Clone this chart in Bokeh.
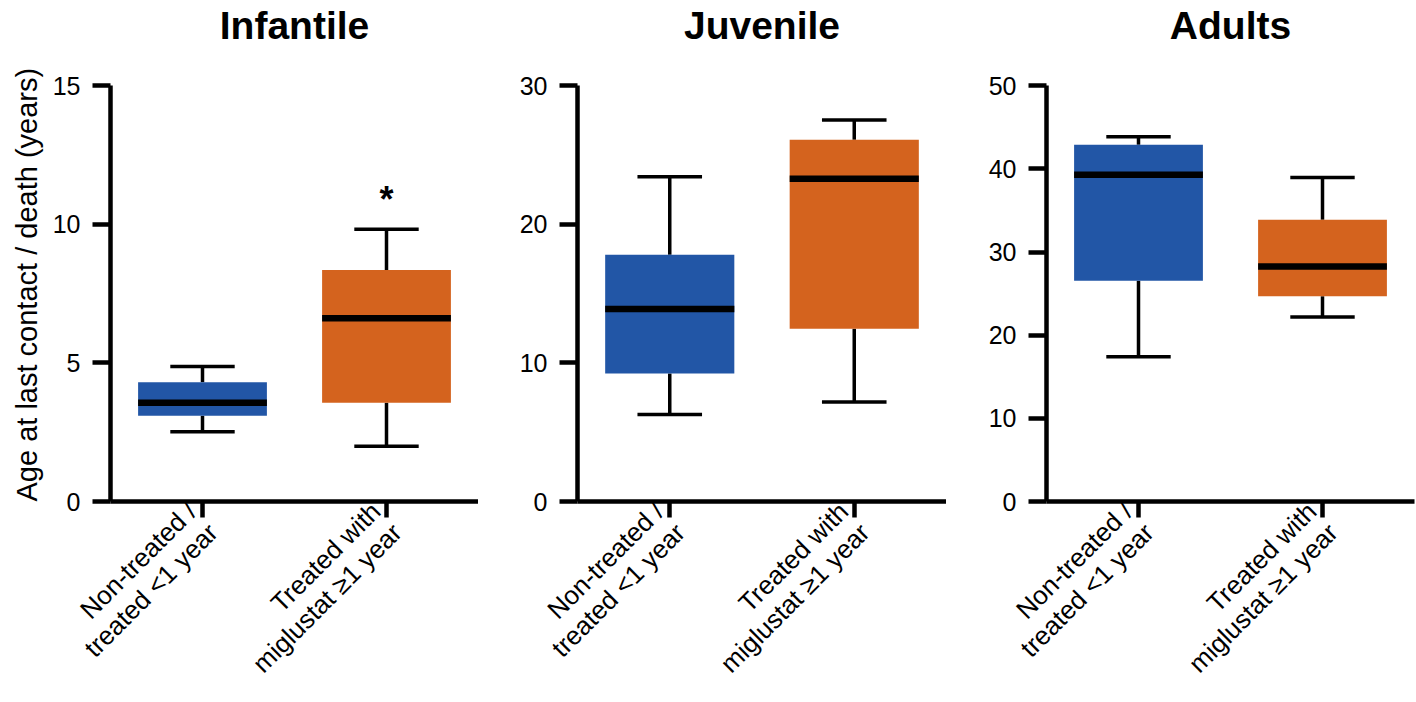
import math
from bokeh.plotting import figure
from bokeh.layouts import row
from bokeh.models import FactorRange, Range1d, FixedTicker, ColumnDataSource, Title
from bokeh.core.properties import value
from bokeh.embed import file_html
from bokeh.resources import INLINE

# ---------------- data ----------------
groups = ["Infantile", "Juvenile", "Adults"]
categories = ["Non-treated /\ntreated <1 year", "Treated with\nmiglustat \u22651 year"]
colors = ["#2256A6", "#D4631E"]
y_max = [15, 30, 50]
y_ticks = [[0, 5, 10, 15], [0, 10, 20, 30], [0, 10, 20, 30, 40, 50]]

whisker_low = [[2.52, 1.99], [6.27, 7.19], [17.4, 22.2]]
q1 = [[3.09, 3.56], [9.23, 12.47], [26.56, 24.68]]
median = [[3.56, 6.61], [13.9, 23.3], [39.3, 28.28]]
q3 = [[4.30, 8.35], [17.8, 26.1], [42.9, 33.9]]
whisker_high = [[4.87, 9.82], [23.43, 27.54], [43.87, 38.98]]

sig_group = "Infantile"
sig_category = categories[1]
sig_y = 10.9
sig_text = "*"

y_label = "Age at last contact / death (years)"

FONT = "Liberation Sans"

# ---------------- layout (pixels) ----------------
left_borders = [110, 99, 100]
right_borders = [0, 0, 2]
frame_ws = [368, 369, 368]
H = 702
axis_bottom_px = 502      # canvas row of y = 0
axis_top_px = 85.5        # canvas row of y = y_max
title_row_px = 25         # canvas row where the title text is anchored
bottom_border = H - axis_bottom_px

figs = []
for i, g in enumerate(groups):
    w = left_borders[i] + frame_ws[i] + right_borders[i]
    px_per_unit = (axis_bottom_px - axis_top_px) / y_max[i]
    p = figure(
        x_range=FactorRange(*categories),
        y_range=Range1d(0, axis_bottom_px / px_per_unit),   # frame reaches canvas top
        width=w,
        height=H,
        min_border_left=left_borders[i],
        min_border_right=right_borders[i],
        min_border_top=0,
        min_border_bottom=bottom_border,
        output_backend="svg",
        toolbar_location=None,
    )
    p.outline_line_color = None
    p.grid.visible = False
    p.background_fill_color = "white"
    p.border_fill_color = "white"

    # panel title above the boxes
    title_y = (axis_bottom_px - title_row_px) / px_per_unit
    p.text(x=[1.0], y=[title_y], text=[g], text_font=value(FONT),
           text_font_size="39px", text_font_style="bold", text_align="center",
           text_baseline="alphabetic", text_color="black")

    src = ColumnDataSource(dict(
        cat=categories,
        lo=whisker_low[i],
        q1=q1[i],
        med=median[i],
        q3=q3[i],
        hi=whisker_high[i],
        color=colors,
    ))

    # whisker stems
    p.segment(x0="cat", y0="q3", x1="cat", y1="hi", source=src, line_color="black", line_width=3.5)
    p.segment(x0="cat", y0="q1", x1="cat", y1="lo", source=src, line_color="black", line_width=3.5)
    # caps
    p.rect(x="cat", y="hi", width=0.35, height=3.5, height_units="screen", source=src,
           fill_color="black", line_color=None)
    p.rect(x="cat", y="lo", width=0.35, height=3.5, height_units="screen", source=src,
           fill_color="black", line_color=None)
    # boxes
    p.vbar(x="cat", top="q3", bottom="q1", width=0.7, source=src,
           fill_color="color", line_color=None)
    # medians
    p.rect(x="cat", y="med", width=0.7, height=6.5, height_units="screen", source=src,
           fill_color="black", line_color=None)

    if g == sig_group:
        p.text(x=[sig_category], y=[sig_y], text=[sig_text], text_font=value(FONT),
               text_font_size="36px", text_font_style="bold", text_align="center",
               text_baseline="alphabetic", text_color="black")

    # y axis
    ya = p.yaxis[0]
    ya.ticker = FixedTicker(ticks=y_ticks[i])
    ya.bounds = (0, y_max[i])
    ya.minor_tick_line_color = None
    ya.major_tick_in = 0
    ya.major_tick_out = 18
    ya.major_tick_line_width = 4.5
    ya.axis_line_width = 4.5
    ya.axis_line_color = "black"
    ya.major_tick_line_color = "black"
    ya.major_label_text_font = FONT
    ya.major_label_text_font_size = "25px"
    ya.major_label_text_color = "black"
    ya.major_label_standoff = 12

    if i == 0:
        # y-axis caption, starting at the bottom of the value axis
        p.add_layout(Title(text=y_label, align="left", offset=0, standoff=14,
                           text_font=FONT, text_font_size="29px",
                           text_font_style="normal", text_color="black"), "left")

    # x axis
    xa = p.xaxis[0]
    xa.major_tick_in = 0
    xa.major_tick_out = 16
    xa.major_tick_line_width = 4.5
    xa.axis_line_width = 4.5
    xa.axis_line_color = "black"
    xa.major_tick_line_color = "black"
    xa.minor_tick_line_color = None
    xa.major_label_orientation = math.pi / 4
    xa.major_label_text_font = FONT
    xa.major_label_text_font_size = "26px"
    xa.major_label_text_line_height = 1.0
    xa.major_label_text_color = "black"
    xa.major_label_standoff = 0

    figs.append(p)

layout = row(*figs)
open("out.html", "w").write(file_html(layout, INLINE))
